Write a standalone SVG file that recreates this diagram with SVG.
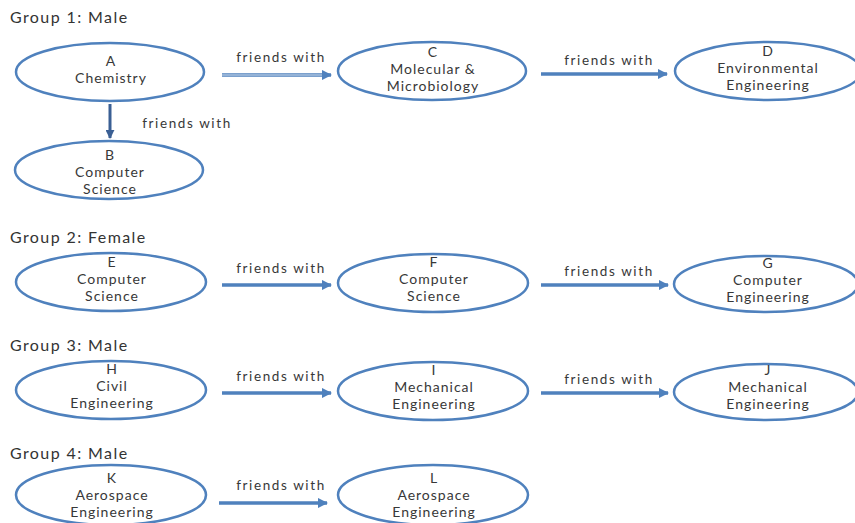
<svg xmlns="http://www.w3.org/2000/svg" width="855" height="523" viewBox="0 0 855 523">
<defs>
<marker id="ah" viewBox="0 0 10 10" refX="9" refY="5" markerWidth="3" markerHeight="3" orient="auto" markerUnits="strokeWidth"><path d="M0,0 L10,5 L0,10 z" fill="#4F81BD"/></marker>
<marker id="ahd" viewBox="0 0 10 10" refX="9" refY="5" markerWidth="3" markerHeight="3" orient="auto" markerUnits="strokeWidth"><path d="M0,0 L10,5 L0,10 z" fill="#3A5F94"/></marker>
</defs>
<style>
.n{fill:#fff;stroke:#4F81BD;stroke-width:2.5}
.t{font-family:Lato,"Liberation Sans",sans-serif;font-size:14px;letter-spacing:1px;fill:#383838;text-anchor:middle}
.g{font-family:Lato,"Liberation Sans",sans-serif;font-size:16px;letter-spacing:1.4px;fill:#333}
.l{font-family:Lato,"Liberation Sans",sans-serif;font-size:13.5px;letter-spacing:1.6px;fill:#383838;text-anchor:middle}
.a{stroke:#4F81BD;stroke-width:3.5;fill:none;marker-end:url(#ah)}
</style>
<rect width="855" height="523" fill="#fff"/>
<text class="g" x="10" y="23">Group 1: Male</text>
<text class="g" x="10" y="243">Group 2: Female</text>
<text class="g" x="10" y="351">Group 3: Male</text>
<text class="g" x="10" y="459">Group 4: Male</text>
<g id="connectors">
<line x1="222" y1="75" x2="331" y2="75" class="a"/>
<line x1="222" y1="75" x2="322" y2="75" stroke="#DCE6F2" stroke-width="1.2"/>
<line x1="541" y1="74" x2="667" y2="74" class="a"/>
<line x1="110" y1="104" x2="110" y2="138" stroke="#3A5F94" stroke-width="3" marker-end="url(#ahd)"/>
<line x1="222" y1="285" x2="331" y2="285" class="a"/>
<line x1="541" y1="285" x2="668" y2="285" class="a"/>
<line x1="222" y1="393" x2="331" y2="393" class="a"/>
<line x1="541" y1="393" x2="668" y2="393" class="a"/>
<line x1="219" y1="503" x2="327" y2="503" class="a"/>
<text class="l" x="281" y="62">friends with</text>
<text class="l" x="609" y="65">friends with</text>
<text class="l" x="187" y="128">friends with</text>
<text class="l" x="281" y="273">friends with</text>
<text class="l" x="609" y="276">friends with</text>
<text class="l" x="281" y="381">friends with</text>
<text class="l" x="609" y="384">friends with</text>
<text class="l" x="281" y="490">friends with</text>
</g>
<g id="A"><ellipse class="n" cx="110" cy="72" rx="94" ry="29"/><text class="t" x="111" y="66">A</text><text class="t" x="111" y="83">Chemistry</text></g>
<g id="B"><ellipse class="n" cx="109" cy="170" rx="94" ry="29"/><text class="t" x="110" y="160">B</text><text class="t" x="110" y="177">Computer</text><text class="t" x="110" y="194">Science</text></g>
<g id="C"><ellipse class="n" cx="432" cy="71" rx="94" ry="29"/><text class="t" x="433" y="57">C</text><text class="t" x="433" y="74">Molecular &amp;</text><text class="t" x="433" y="91">Microbiology</text></g>
<g id="D"><ellipse class="n" cx="768" cy="71" rx="93" ry="29"/><text class="t" x="768" y="56">D</text><text class="t" x="768" y="73">Environmental</text><text class="t" x="768" y="90">Engineering</text></g>
<g id="E"><ellipse class="n" cx="111" cy="282" rx="95" ry="29"/><text class="t" x="112" y="267">E</text><text class="t" x="112" y="284">Computer</text><text class="t" x="112" y="301">Science</text></g>
<g id="F"><ellipse class="n" cx="433" cy="283" rx="95" ry="29"/><text class="t" x="434" y="267">F</text><text class="t" x="434" y="284">Computer</text><text class="t" x="434" y="301">Science</text></g>
<g id="G"><ellipse class="n" cx="766" cy="284" rx="92" ry="28"/><text class="t" x="768" y="268">G</text><text class="t" x="768" y="285">Computer</text><text class="t" x="768" y="302">Engineering</text></g>
<g id="H"><ellipse class="n" cx="111" cy="390" rx="95" ry="29"/><text class="t" x="112" y="374">H</text><text class="t" x="112" y="391">Civil</text><text class="t" x="112" y="408">Engineering</text></g>
<g id="I"><ellipse class="n" cx="433" cy="391" rx="95" ry="29"/><text class="t" x="434" y="375">I</text><text class="t" x="434" y="392">Mechanical</text><text class="t" x="434" y="409">Engineering</text></g>
<g id="J"><ellipse class="n" cx="766" cy="392" rx="92" ry="28"/><text class="t" x="768" y="375">J</text><text class="t" x="768" y="392">Mechanical</text><text class="t" x="768" y="409">Engineering</text></g>
<g id="K"><ellipse class="n" cx="111" cy="495" rx="95" ry="30"/><text class="t" x="112" y="483">K</text><text class="t" x="112" y="500">Aerospace</text><text class="t" x="112" y="517">Engineering</text></g>
<g id="L"><ellipse class="n" cx="433" cy="495" rx="95" ry="30"/><text class="t" x="434" y="483">L</text><text class="t" x="434" y="500">Aerospace</text><text class="t" x="434" y="517">Engineering</text></g>
</svg>
